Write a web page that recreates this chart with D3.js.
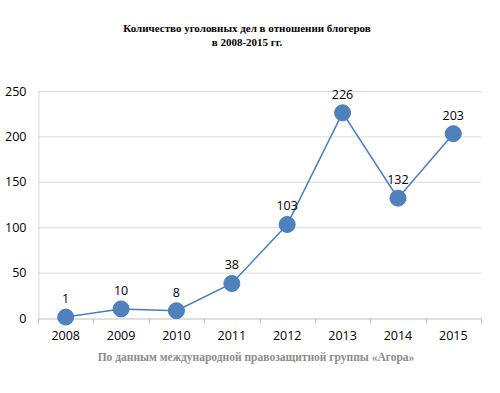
<!DOCTYPE html>
<html lang="ru">
<head>
<meta charset="UTF-8">
<title>Уголовные дела блогеров</title>
<style>
  body { margin: 0; background: #fff; }
  svg { display: block; }
</style>
</head>
<body>
<svg width="500" height="393"></svg>
<script src="https://d3js.org/d3.v7.min.js"></script>
<script>
// data
let years = ["2008", "2009", "2010", "2011", "2012", "2013", "2014", "2015"];
let cases = [1, 10, 8, 38, 103, 226, 132, 203];
let yTicks = [0, 50, 100, 150, 200, 250];
let titleLines = ["Количество уголовных дел в отношении блогеров", "в 2008-2015 гг."];
let source = "По данным международной правозащитной группы «Агора»";

let svg = d3.select("svg");
let plotLeft = 38, plotRight = 481, plotTop = 91, plotBottom = 318;

let x = d3.scaleBand().domain(years).range([plotLeft, plotRight]);
let y = d3.scaleLinear().domain([0, 250]).range([plotBottom, plotTop]);

// title
svg.append("g").selectAll("text")
    .data(titleLines)
    .enter()
    .append("text")
    .attr("x", 247)
    .attr("y", (d, i) => 32 + i * 14)
    .attr("text-anchor", "middle")
    .style("font-family", "Liberation Serif, serif")
    .style("font-weight", "bold")
    .style("font-size", "11px")
    .text(d => d);

// gridlines
svg.append("g").selectAll("line")
    .data(yTicks.filter(d => d > 0))
    .enter()
    .append("line")
    .attr("x1", plotLeft)
    .attr("x2", plotRight)
    .attr("y1", d => y(d) + 0.5)
    .attr("y2", d => y(d) + 0.5)
    .attr("stroke", "#d9d9d9");

// y axis
let yAxis = svg.append("g")
    .attr("transform", "translate(" + (plotLeft + 0.5) + ",0)")
    .call(d3.axisLeft(y).tickValues(yTicks).tickSize(0).tickPadding(12));
yAxis.select(".domain").attr("stroke", "#d9d9d9");
yAxis.selectAll("text")
    .style("font-family", "Open Sans, sans-serif")
    .style("font-size", "12.5px")
    .attr("fill", "#000");

// x axis
let xAxis = svg.append("g")
    .attr("transform", "translate(0," + (plotBottom + 0.5) + ")")
    .call(d3.axisBottom(x).tickSize(0).tickPadding(13));
xAxis.select(".domain").attr("stroke", "#bfbfbf");
xAxis.selectAll("text")
    .style("font-family", "Open Sans, sans-serif")
    .style("font-size", "12.5px")
    .attr("fill", "#000");
xAxis.selectAll(".boundary")
    .data(years.map(d => x(d)).concat([plotRight]))
    .enter()
    .append("line")
    .attr("x1", d => Math.round(d) + 0.5)
    .attr("x2", d => Math.round(d) + 0.5)
    .attr("y1", 0)
    .attr("y2", 5)
    .attr("stroke", "#bfbfbf");

// line
let pts = years.map((d, i) => ({year: d, v: cases[i]}));
let cx = d => x(d.year) + x.bandwidth() / 2;

svg.append("path")
    .datum(pts)
    .attr("fill", "none")
    .attr("stroke", "#4a7ebb")
    .attr("stroke-width", 1.5)
    .attr("d", d3.line().x(cx).y(d => y(d.v)));

svg.append("g").selectAll("circle")
    .data(pts)
    .enter()
    .append("circle")
    .attr("cx", cx)
    .attr("cy", d => y(d.v))
    .attr("r", 8)
    .attr("fill", "#4f81bd")
    .attr("stroke", "#4a7ebb");

svg.append("g").selectAll("text")
    .data(pts)
    .enter()
    .append("text")
    .attr("x", cx)
    .attr("y", d => y(d.v) - 14)
    .attr("text-anchor", "middle")
    .style("font-family", "Open Sans, sans-serif")
    .style("font-size", "12.5px")
    .text(d => d.v);

// source note
svg.append("text")
    .attr("x", 256)
    .attr("y", 361)
    .attr("text-anchor", "middle")
    .attr("fill", "#8c8c8c")
    .style("font-family", "Liberation Serif, serif")
    .style("font-weight", "bold")
    .style("font-size", "11.5px")
    .text(source);
</script>
</body>
</html>
